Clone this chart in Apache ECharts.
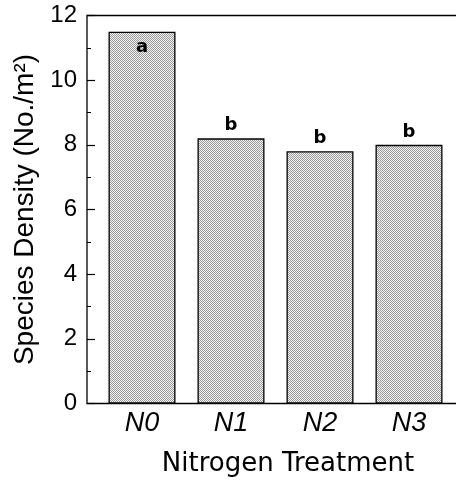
<!DOCTYPE html>
<html style="height: 100%">
<head>
    <meta charset="utf-8">
</head>
<body style="height: 100%; margin: 0; background: #fff">
<div id="container" style="width: 456px; height: 482px"></div>
<script src="https://cdn.jsdelivr.net/npm/echarts@6/dist/echarts.min.js"></script>
<script>
    // data
    var categories = ['N0', 'N1', 'N2', 'N3'];
    var density = [11.5, 8.2, 7.8, 8.0];
    var letters = ['a', 'b', 'b', 'b'];
    var yTicks = [0, 2, 4, 6, 8, 10, 12];

    var dom = document.getElementById("container");
    var myChart = echarts.init(dom);

    // stippled grey fill like the scanned bars
    var pat = document.createElement('canvas');
    pat.width = 2;
    pat.height = 2;
    var ctx = pat.getContext('2d');
    ctx.fillStyle = '#f2f2f2';
    ctx.fillRect(0, 0, 2, 2);
    ctx.fillStyle = '#9a9a9a';
    ctx.fillRect(0, 0, 1, 1);
    ctx.fillRect(1, 1, 1, 1);

    var barData = [];
    for (var i = 0; i < density.length; i++) {
        barData.push({
            value: density[i],
            label: {position: density[i] > 11 ? 'insideTop' : 'top', distance: density[i] > 11 ? 7 : 4}
        });
    }

    option = {
        animation: false,
        grid: [
            {left: 97.5, width: 356, top: 15.5, height: 388, outerBoundsMode: 'none'},
            // frame box around the plot (runs off the right edge like the scan)
            {left: 87, width: 420, top: 15.5, height: 388, outerBoundsMode: 'none',
                show: true, borderColor: '#000', borderWidth: 1.3}
        ],
        xAxis: [
            {
                type: 'category',
                gridIndex: 0,
                data: categories,
                axisLine: {show: false},
                axisTick: {inside: true, alignWithLabel: true, length: 7, lineStyle: {color: '#000', width: 1.2}},
                axisLabel: {
                    margin: 6,
                    color: '#000',
                    fontFamily: 'Liberation Sans',
                    fontStyle: 'italic',
                    fontSize: 27
                },
                name: 'Nitrogen Treatment',
                nameLocation: 'middle',
                nameGap: 48,
                nameTextStyle: {
                    color: '#000',
                    fontFamily: 'DejaVu Sans',
                    fontSize: 26,
                    padding: [0, 0, 0, 25]
                }
            },
            {type: 'value', gridIndex: 1, show: false}
        ],
        yAxis: [
            {
                type: 'value',
                gridIndex: 0,
                min: yTicks[0],
                max: yTicks[yTicks.length - 1],
                interval: 2,
                offset: 10.5,
                axisLine: {show: false},
                axisTick: {show: true, inside: true, length: 8, lineStyle: {color: '#000', width: 1.2}},
                minorTick: {show: true, splitNumber: 2, length: 4, lineStyle: {color: '#000', width: 1}},
                splitLine: {show: false},
                axisLabel: {
                    margin: 10,
                    color: '#000',
                    fontFamily: 'Liberation Sans',
                    fontSize: 24
                },
                name: 'Species Density (No./m²)',
                nameLocation: 'middle',
                nameGap: 47,
                nameTextStyle: {
                    color: '#000',
                    fontFamily: 'Liberation Sans',
                    fontSize: 28
                }
            },
            {type: 'value', gridIndex: 1, show: false}
        ],
        series: [
            {
                type: 'bar',
                xAxisIndex: 0,
                yAxisIndex: 0,
                barWidth: 67,
                data: barData,
                itemStyle: {
                    color: {image: pat, repeat: 'repeat'},
                    borderColor: '#000',
                    borderWidth: 1.3
                },
                label: {
                    show: true,
                    color: '#000',
                    fontFamily: 'DejaVu Sans',
                    fontWeight: 'bold',
                    fontSize: 18,
                    formatter: function (p) {
                        return letters[p.dataIndex];
                    }
                }
            }
        ]
    };
    if (option && typeof option === "object") {
        myChart.setOption(option, true);
    }
</script>
</body>
</html>
